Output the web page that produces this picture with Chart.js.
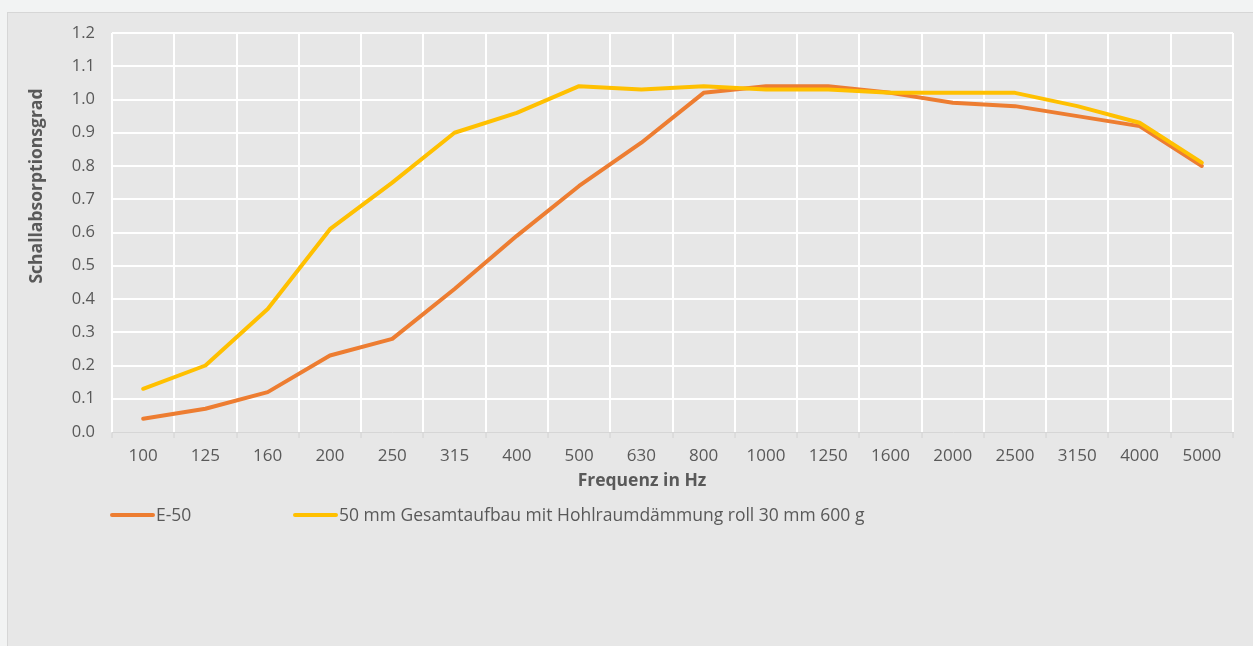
<!DOCTYPE html>
<html lang="de">
<head>
<meta charset="utf-8">
<title>Schallabsorptionsgrad</title>
<script src="https://cdn.jsdelivr.net/npm/chart.js@4/dist/chart.umd.min.js"></script>
<style>
  html, body { margin: 0; padding: 0; background: #f2f3f3; overflow: hidden; }
  #panel {
    position: absolute; left: 7px; top: 12px;
    width: 1260px; height: 650px;
    background: #e7e7e7; border: 1px solid #d6d6d6;
  }
  #absChart { position: absolute; left: 0; top: 0; }
</style>
</head>
<body>
<div id="panel">
  <canvas id="absChart" width="1245" height="633"></canvas>
</div>
<script>
// Frequenzbänder (Terz) und gemessene Absorptionsgrade
const frequenzen = ['100', '125', '160', '200', '250', '315', '400', '500', '630', '800',
                    '1000', '1250', '1600', '2000', '2500', '3150', '4000', '5000'];
const werteE50 = [0.04, 0.07, 0.12, 0.23, 0.28, 0.43, 0.59, 0.74, 0.87, 1.02,
                  1.04, 1.04, 1.02, 0.99, 0.98, 0.95, 0.92, 0.80];
const werteGesamt = [0.13, 0.20, 0.37, 0.61, 0.75, 0.90, 0.96, 1.04, 1.03, 1.04,
                     1.03, 1.03, 1.02, 1.02, 1.02, 0.98, 0.93, 0.81];
const serienNamen = ['E-50', '50 mm Gesamtaufbau mit Hohlraumdämmung roll 30 mm 600 g'];
const serienFarben = ['#ED7D31', '#FFC000'];
const titelX = 'Frequenz in Hz';
const titelY = 'Schallabsorptionsgrad';

const textFarbe = '#595959';
const schrift = '"Open Sans", "Noto Sans", sans-serif';

// Achsentitel und Legende wie in Excel: feste Positionen statt zentriert
const legendeX = [102, 285];
const beschriftungPlugin = {
    id: 'excelBeschriftung',
    afterDraw(chart) {
        const ctx = chart.ctx;
        ctx.save();
        ctx.fillStyle = textFarbe;
        ctx.textAlign = 'center';
        ctx.textBaseline = 'middle';

        // Achsentitel
        ctx.font = 'bold 17.5px ' + schrift;
        ctx.fillText(titelX, 634, 468);
        ctx.save();
        ctx.translate(29, 173);
        ctx.rotate(-Math.PI / 2);
        ctx.fillText(titelY, 0, 0);
        ctx.restore();

        // Legende
        const y = 502;
        ctx.font = '17.5px ' + schrift;
        ctx.textAlign = 'left';
        chart.data.datasets.forEach((ds, i) => {
            const x = legendeX[i];
            ctx.strokeStyle = ds.borderColor;
            ctx.lineWidth = 4;
            ctx.lineCap = 'round';
            ctx.beginPath();
            ctx.moveTo(x + 2, y);
            ctx.lineTo(x + 43, y);
            ctx.stroke();
            ctx.fillText(ds.label, x + 46, y + 1);
        });
        ctx.restore();
    }
};

const ctx = document.getElementById('absChart').getContext('2d');
const absChart = new Chart(ctx, {
    type: 'line',
    data: {
        labels: frequenzen,
        datasets: [{
            label: serienNamen[0],
            data: werteE50,
            borderColor: serienFarben[0],
            backgroundColor: serienFarben[0],
            borderWidth: 4,
            pointRadius: 0,
            tension: 0,
            borderCapStyle: 'round',
            borderJoinStyle: 'round',
            order: 1
        }, {
            label: serienNamen[1],
            data: werteGesamt,
            borderColor: serienFarben[1],
            backgroundColor: serienFarben[1],
            borderWidth: 4,
            pointRadius: 0,
            tension: 0,
            borderCapStyle: 'round',
            borderJoinStyle: 'round',
            order: 0
        }]
    },
    options: {
        responsive: false,
        animation: false,
        devicePixelRatio: 1,
        layout: { padding: { top: 20, right: 20, bottom: 134, left: 0 } },
        plugins: {
            legend: { display: false },
            tooltip: { enabled: false }
        },
        scales: {
            x: {
                offset: true,
                grid: {
                    offset: true,
                    color: '#ffffff',
                    lineWidth: 2,
                    drawTicks: true,
                    tickLength: 6,
                    tickColor: '#d2d2d2',
                    tickWidth: 1
                },
                border: { display: true, color: '#d6d6d6', width: 1 },
                ticks: {
                    color: textFarbe,
                    font: { family: schrift, size: 17 },
                    padding: 8,
                    maxRotation: 0,
                    autoSkip: false
                },
                afterFit(scale) { scale.height = 80; }
            },
            y: {
                min: 0,
                max: 1.2,
                grid: {
                    color: (c) => (c.tick && c.tick.value === 0 ? 'rgba(0,0,0,0)' : '#ffffff'),
                    lineWidth: 2,
                    drawTicks: false
                },
                border: { display: false },
                ticks: {
                    stepSize: 0.1,
                    color: textFarbe,
                    font: { family: schrift, size: 16.5 },
                    padding: 17,
                    callback: (v) => Number(v).toFixed(1)
                },
                afterFit(scale) {
                    scale.width = 104;
                    scale.paddingTop = 0;
                    scale.paddingBottom = 0;
                }
            }
        }
    },
    plugins: [beschriftungPlugin]
});
</script>
</body>
</html>
